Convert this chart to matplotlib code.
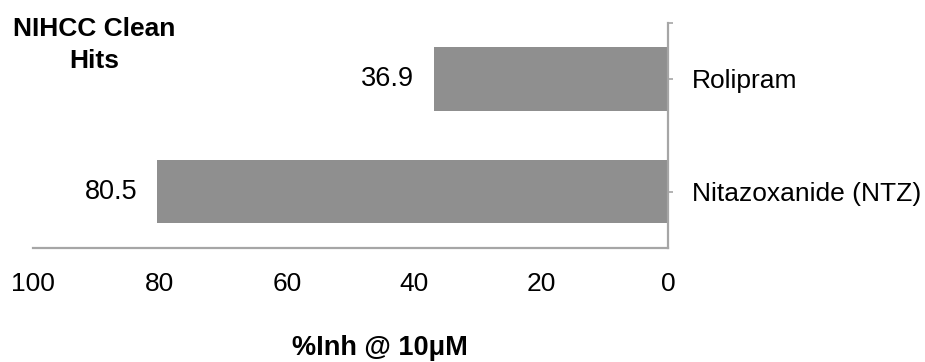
import matplotlib
matplotlib.use("Agg")
import matplotlib.pyplot as plt

plt.rcParams['font.family'] = ['Liberation Sans', 'DejaVu Sans']

categories = ["Nitazoxanide (NTZ)", "Rolipram"]
values = [80.5, 36.9]
xticks = [100, 80, 60, 40, 20, 0]
title = "NIHCC Clean\nHits"
xlabel = "%Inh @ 10\u03bcM"

W, H = 925, 362
fig = plt.figure(figsize=(W / 100, H / 100), dpi=100)
ax = fig.add_axes([33 / W, (H - 248) / H, (668 - 33) / W, (248 - 22.5) / H])

pos = list(range(len(categories)))
ax.barh(pos, values, height=0.565, color='#8f8f8f', zorder=2)

ax.set_xlim(100, 0)
ax.set_ylim(-0.5, 1.5)

axis_col = '#a6a6a6'
for s in ['left', 'top']:
    ax.spines[s].set_visible(False)
for s in ['bottom', 'right']:
    ax.spines[s].set_color(axis_col)
    ax.spines[s].set_linewidth(1.6)

ax.set_xticks(xticks)
ax.set_xticklabels([str(t) for t in xticks])
ax.tick_params(axis='x', length=0, pad=17, labelsize=19, labelcolor='black')

ax.yaxis.tick_right()
ax.set_yticks(pos)
ax.set_yticklabels(categories)
ax.set_yticks([1.5], minor=True)
ax.tick_params(axis='y', which='both', direction='out', length=3.5, width=1.2,
               color=axis_col, pad=14, labelsize=19, labelcolor='black')

for p, v in zip(pos, values):
    ax.annotate(f"{v:.1f}", xy=(v, p), xytext=(-14, 0), textcoords='offset points',
                ha='right', va='center', fontsize=19.5, color='black')

lines = title.split("\n")
fig.text(94 / W, (H - 36) / H, lines[0], ha='center', va='baseline',
         fontsize=19, fontweight='bold')
fig.text(94 / W, (H - 68) / H, lines[1], ha='center', va='baseline',
         fontsize=19, fontweight='bold')

fig.text(380 / W, (H - 355) / H, xlabel, ha='center', va='baseline',
         fontsize=19.5, fontweight='bold')

fig.savefig("out.png", dpi=100, facecolor='white')
